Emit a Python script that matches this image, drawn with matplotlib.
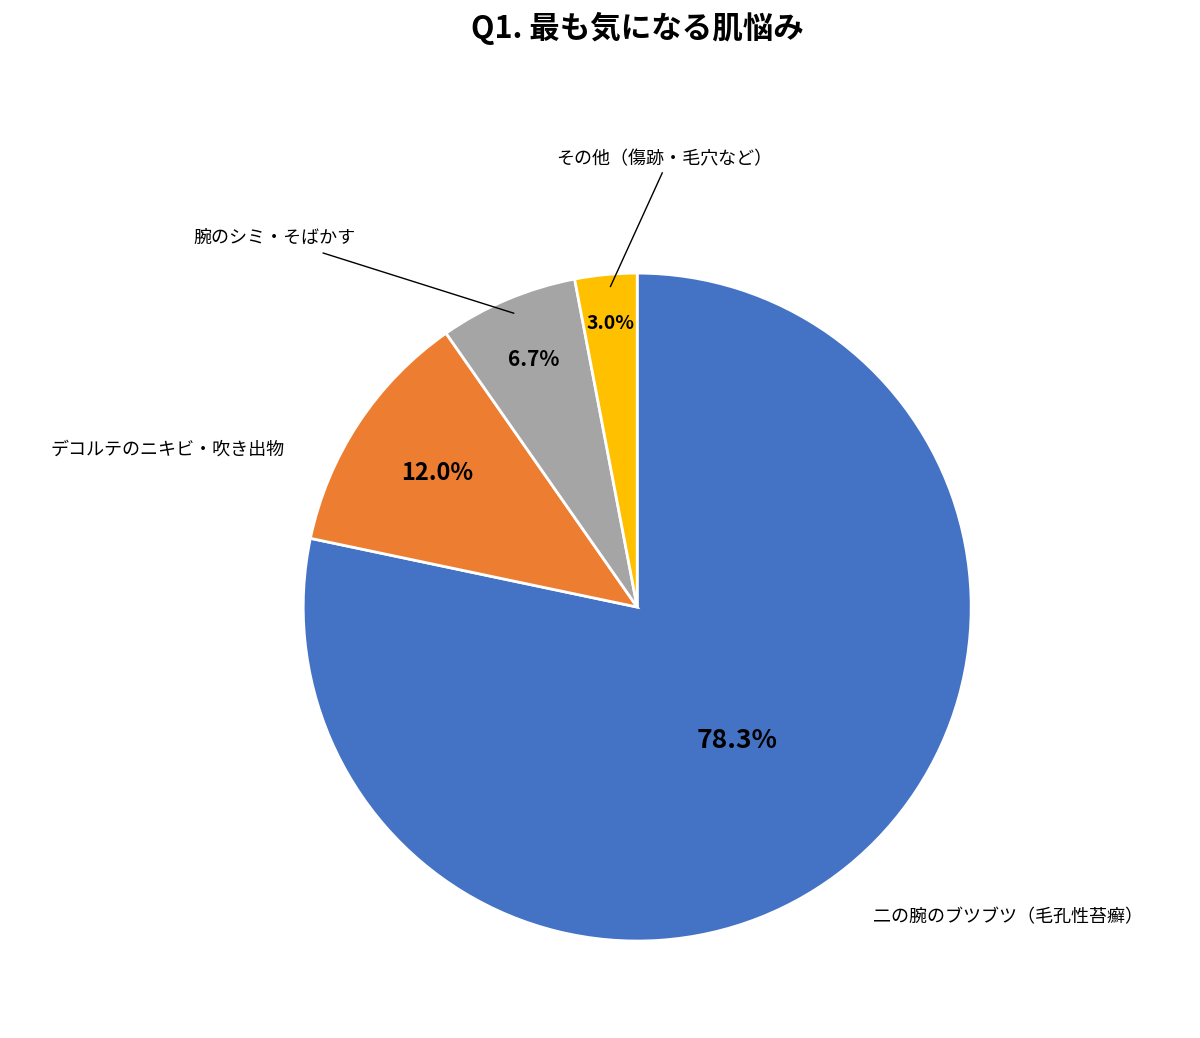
import matplotlib.pyplot as plt

plt.rcParams['font.family'] = ['Noto Sans CJK JP', 'DejaVu Sans']

labels = ['二の腕のブツブツ（毛孔性苔癬）', 'デコルテのニキビ・吹き出物', '腕のシミ・そばかす', 'その他（傷跡・毛穴など）']
values = [78.3, 12.0, 6.7, 3.0]
colors = ['#4472C4', '#ED7D31', '#A5A5A5', '#FFC000']

fig = plt.figure(figsize=(12, 10.38), dpi=100)
ax = fig.add_axes([0.2525, 0.0934, 0.557, 0.6435])
wedges, _ = ax.pie(values, colors=colors, startangle=90, counterclock=False,
                   wedgeprops=dict(edgecolor='white', linewidth=2))
ax.set_xlim(-1, 1)
ax.set_ylim(-1, 1)
ax.set_aspect('equal')

# percentage labels
pct_pos = [(0.30, -0.40), (-0.60, 0.40), (-0.31, 0.74), (-0.08, 0.85)]
pct_size = [19, 17, 15, 14]
for v, (x, y), s in zip(values, pct_pos, pct_size):
    ax.text(x, y, f'{v:.1f}%', ha='center', va='center', fontsize=s, fontweight='bold')

# outer labels
ax.text(0.705, -0.93, labels[0], ha='left', va='center', fontsize=13)
ax.text(-1.055, 0.47, labels[1], ha='right', va='center', fontsize=13)
ax.text(-1.085, 1.105, labels[2], ha='center', va='center', fontsize=13)
ax.text(0.08, 1.34, labels[3], ha='center', va='center', fontsize=13)
ax.plot([-0.37, -0.94], [0.88, 1.06], color='black', lw=1, clip_on=False)
ax.plot([-0.08, 0.075], [0.96, 1.30], color='black', lw=1, clip_on=False)

fig.text(0.531, 0.973, 'Q1. 最も気になる肌悩み', ha='center', va='center',
         fontsize=22, fontweight='bold')
fig.savefig('out.png')
